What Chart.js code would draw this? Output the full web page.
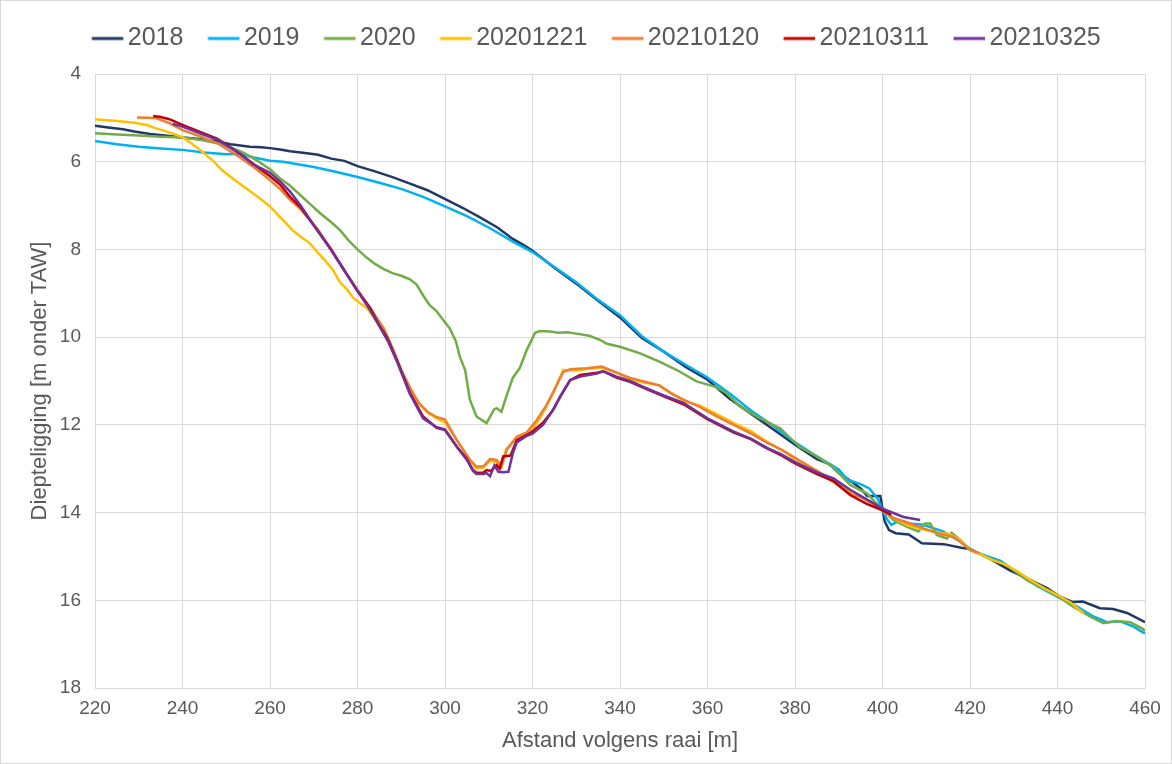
<!DOCTYPE html>
<html>
<head>
<meta charset="utf-8">
<script src="https://cdn.jsdelivr.net/npm/chart.js@4.4.0/dist/chart.umd.min.js"></script>
<style>
html,body{margin:0;padding:0;background:#fff;}
#wrap{width:1172px;height:764px;position:relative;}
</style>
</head>
<body>
<div id="wrap"><canvas id="c" width="1172" height="764"></canvas></div>
<script>
// ---- data (x = afstand [m], y = diepteligging [m onder TAW]) ----
const seriesNames = ['2018','2019','2020','20201221','20210120','20210311','20210325'];
const xTicks = [220,240,260,280,300,320,340,360,380,400,420,440,460];
const yTicks = [4,6,8,10,12,14,16,18];

const x2018 = [220,223,226.4,229,232.6,236,240,244,247.9,251,255.4,258,260,262.3,264.6,268,271,274,277,280,284,288,292,296,300.4,304,308,312,315.5,318,320,325,330,335,340,345,350,355,360,365,370,375,380,385,388,390,393,395,396.5,399.5,400.5,401.5,403,406,409,414,418,420,425,429,433,437.6,440.6,443.5,445.8,449.7,452.7,455.9,460];
const y2018 = [5.18,5.22,5.26,5.31,5.37,5.4,5.45,5.48,5.54,5.6,5.66,5.67,5.69,5.72,5.76,5.8,5.84,5.93,5.98,6.1,6.22,6.35,6.5,6.65,6.87,7.05,7.27,7.5,7.76,7.9,8.03,8.42,8.78,9.17,9.55,10.02,10.33,10.68,10.97,11.4,11.75,12.1,12.45,12.78,12.9,13.1,13.3,13.45,13.62,13.62,14.2,14.4,14.47,14.5,14.7,14.72,14.8,14.83,15.08,15.31,15.5,15.72,15.92,16.04,16.03,16.18,16.2,16.29,16.5];

const x2019 = [220,225,230,235,240,245,250,253,256,260,263,266,270,275,280,285,290,295,300,305,310,315.5,320,325,330,335,340,345,350,355,360,365,370,375,380,385,390,392,395,397,399,400,401,402,404,406.3,409.3,413.8,417.7,420.9,427,430.9,435.4,440.6,444.4,448.2,451.3,454.3,457.4,460];
const y2019 = [5.53,5.6,5.66,5.7,5.73,5.79,5.83,5.82,5.9,5.98,6.0,6.05,6.12,6.23,6.35,6.48,6.62,6.8,7.02,7.24,7.5,7.82,8.06,8.4,8.75,9.15,9.5,9.98,10.33,10.63,10.92,11.28,11.68,12.02,12.4,12.72,13.02,13.25,13.35,13.45,13.7,13.94,14.15,14.28,14.18,14.25,14.28,14.43,14.66,14.89,15.1,15.38,15.68,15.95,16.14,16.37,16.5,16.48,16.6,16.76];

const x2020 = [220,225,230,235,240,244,248,251,254,257,260,262.3,264.6,266.9,269,271.4,274,276,278,280,282,284,286,288,290,292,293.5,295,296.5,298,299.5,301.1,302.5,303.4,304.6,305.7,307.2,309.5,311.2,311.8,312.9,314.2,315.5,317.1,318.7,320.6,321.7,324,326,328,330,333,335.4,337,340,344.6,349,353,357.5,362,364.4,367.4,372,376.6,381,385,389,392.6,396.4,399.4,402.5,405.5,408.2,409.7,410.9,412.4,414.7,415.8,417.7,420,425.3,428.3,433,437.6,440,443.5,447.4,450.5,453.5,456.6,459.3,460];
const y2020 = [5.35,5.38,5.4,5.43,5.45,5.5,5.58,5.67,5.8,5.97,6.17,6.38,6.55,6.76,6.95,7.17,7.38,7.56,7.8,8.0,8.18,8.33,8.45,8.54,8.6,8.68,8.8,9.05,9.27,9.4,9.6,9.8,10.1,10.45,10.75,11.43,11.81,11.96,11.65,11.62,11.7,11.3,10.93,10.7,10.29,9.9,9.86,9.87,9.9,9.89,9.92,9.97,10.06,10.15,10.22,10.37,10.56,10.75,11.01,11.14,11.28,11.58,11.85,12.08,12.5,12.72,12.99,13.37,13.56,13.87,14.17,14.32,14.43,14.25,14.25,14.51,14.59,14.46,14.62,14.85,15.08,15.19,15.54,15.77,15.9,16.14,16.37,16.52,16.47,16.5,16.64,16.7];

const x20201221 = [220,225,229,232,234,237,240,242,244,247,249,252,255,258,260,263,265,267,269,271,273,274.4,276,277.5,279,280.5,282.2,284,286,288,290,292,294,296,298,300,302.7,305.7,307.2,308.7,310.3,311.8,312.9,314,316.4,318.7,320,322,324.7,327,330,333,336,339,342,345,349,352,355,358,362,366,370,373.5,377,380,385,390,393,396,400,402.5,406,410,412.8,415.2,417.7,420,423,425,428,431,434,437,440,443,446];
const y20201221 = [5.03,5.07,5.11,5.17,5.24,5.33,5.44,5.58,5.73,5.98,6.19,6.42,6.64,6.86,7.02,7.33,7.55,7.71,7.85,8.08,8.3,8.47,8.75,8.9,9.1,9.22,9.34,9.6,9.85,10.3,10.8,11.2,11.5,11.72,11.85,11.95,12.35,12.8,13.0,12.98,12.82,12.85,12.95,12.55,12.3,12.18,12.1,11.8,11.28,10.75,10.76,10.72,10.7,10.8,10.95,11.03,11.1,11.3,11.47,11.55,11.75,11.96,12.15,12.38,12.58,12.78,13.05,13.35,13.55,13.7,13.95,14.12,14.3,14.4,14.47,14.48,14.62,14.85,14.98,15.08,15.18,15.35,15.55,15.73,15.88,16.05,16.3];

const x20210120 = [229.6,232,234,237,240,244,248,253,257,260,262.3,264.6,267,271,274.4,277.4,280,283,286,288,290,292,294,296,298,300,302.7,305.7,307.2,308.7,310.3,311.8,312.9,314.1,316.4,318.7,321,323.2,325,327,328.6,332.4,335.8,339.2,342.3,345,349,352,355,358,362,366,370,373.5,377,380,385,390,393,395,398,400,402.5,406.3,409.3,413.8,416.1,417.7,420,422];
const y20210120 = [4.99,5.0,5.01,5.12,5.28,5.42,5.58,5.89,6.18,6.42,6.62,6.87,7.08,7.55,8.08,8.54,8.92,9.35,9.8,10.25,10.75,11.15,11.5,11.7,11.82,11.88,12.35,12.8,12.95,12.95,12.78,12.8,12.95,12.57,12.27,12.17,11.89,11.55,11.2,10.8,10.73,10.71,10.67,10.81,10.93,11.0,11.1,11.3,11.45,11.58,11.8,12.0,12.2,12.4,12.57,12.75,13.05,13.38,13.6,13.64,13.8,13.94,14.12,14.25,14.36,14.5,14.55,14.66,14.85,14.92];

const x20210311 = [233.3,235,237,240,244,248,253,257,260,262.3,264.6,266.9,270,274,277.4,280,283,284.9,286.7,289,292,295,298.1,300,302.7,304.9,306.4,307.2,308.7,309.5,310.5,311.8,312.5,313.3,315,316.4,318.7,320,322.4,324.7,326.3,328.6,330.9,334.7,336.2,339.2,342.3,345.7,350,354.5,360,365.9,370,373.5,377,380,384.9,388.8,392.6,396.4,400,402];
const y20210311 = [4.96,4.98,5.03,5.16,5.32,5.48,5.81,6.11,6.33,6.52,6.8,7.03,7.45,8.0,8.54,8.95,9.35,9.72,10.0,10.52,11.27,11.81,12.07,12.12,12.5,12.76,13.03,13.09,13.09,13.03,13.05,12.92,13.0,12.72,12.7,12.35,12.23,12.15,11.95,11.66,11.36,10.98,10.86,10.81,10.78,10.92,11.02,11.17,11.35,11.53,11.87,12.17,12.33,12.53,12.7,12.88,13.12,13.28,13.6,13.8,13.95,14.05];

const x20210325 = [237.8,240,244,248,253,256,260,262.3,264.6,267,270,274,277.4,280,283,285,287,289,292,295,298,300,302.7,305,306.4,307.2,308.7,309.5,310.3,311.3,312.2,313.3,314.5,315.5,316.4,318.7,320,322.4,324.7,326.3,328.6,330.9,334.7,336.2,339.2,342.3,345.7,350,354.5,360,365.9,370,373.5,377,380,384.9,388.8,392.6,396.4,400,402.5,404.8,408.6];
const y20210325 = [5.14,5.2,5.35,5.5,5.81,6.05,6.25,6.45,6.68,7.0,7.45,8.02,8.55,8.95,9.4,9.75,10.1,10.55,11.3,11.85,12.05,12.1,12.5,12.8,13.05,13.12,13.12,13.1,13.17,12.92,13.07,13.08,13.07,12.65,12.4,12.25,12.2,12.0,11.66,11.36,10.98,10.9,10.83,10.78,10.9,11.0,11.15,11.33,11.5,11.85,12.15,12.32,12.52,12.68,12.85,13.08,13.22,13.48,13.7,13.91,14.01,14.1,14.17];

const seriesColors = ['#1F3864','#00B0F0','#70AD47','#FFC000','#ED7D31','#C00000','#7030A0'];

// ---- build ----
const xs = [x2018,x2019,x2020,x20201221,x20210120,x20210311,x20210325];
const ys = [y2018,y2019,y2020,y20201221,y20210120,y20210311,y20210325];
const toPts = (a,b) => a.map((v,i) => ({x:v, y:b[i]}));

const FONT = "'Liberation Sans', Arial, sans-serif";
const TXT = '#595959';
const GRID = '#D9D9D9';

const PLOT_LEFT = 95, PLOT_BOTTOM = 688, W = 1172, H = 764;
const LEGEND_EXTRA = 13;
const LEGEND_CENTER = 596;
const BOX_W = 24;

// legend marker: a short line that reaches close to the label text
function legendMarker(color) {
  const cv = document.createElement('canvas');
  cv.width = 42; cv.height = 6;
  const c = cv.getContext('2d');
  c.strokeStyle = color;
  c.lineWidth = 3;
  c.beginPath();
  c.moveTo(9.5, 3);
  c.lineTo(41, 3);
  c.stroke();
  return cv;
}

const framePlugin = {
  id: 'frame',
  beforeLayout(chart) {
    const lg = chart.legend;
    if (lg && !lg._extraWrapped) {
      const f = lg.fit.bind(lg);
      lg.fit = function () { f(); this.height += LEGEND_EXTRA; };
      lg._extraWrapped = true;
    }
  },
  afterLayout(chart) {
    const lg = chart.legend;
    if (lg) {
      const cur = (lg.left + lg.right) / 2;
      const d = LEGEND_CENTER - cur;
      lg.left += d; lg.right += d;
    }
  },
  beforeDraw(chart) {
    const c = chart.ctx;
    c.save();
    c.fillStyle = '#fff';
    c.fillRect(0,0,chart.width,chart.height);
    c.restore();
  },
  afterDraw(chart) {
    const c = chart.ctx;
    c.save();
    c.strokeStyle = GRID;
    c.lineWidth = 1;
    c.strokeRect(0.5,0.5,chart.width-1,chart.height-1);
    c.restore();
  }
};

new Chart(document.getElementById('c'), {
  type: 'line',
  data: {
    datasets: seriesNames.map((n,i) => ({
      label: n,
      data: toPts(xs[i], ys[i]),
      borderColor: seriesColors[i],
      backgroundColor: seriesColors[i],
      borderWidth: 2.5,
      pointRadius: 0,
      pointHoverRadius: 0,
      pointStyle: legendMarker(seriesColors[i]),
      tension: 0,
      fill: false,
      order: seriesNames.length - i
    }))
  },
  options: {
    responsive: false,
    animation: false,
    events: [],
    layout: { padding: { top: 2, right: 27, bottom: 0, left: 0 } },
    plugins: {
      legend: {
        position: 'top',
        align: 'center',
        labels: {
          usePointStyle: true,
          pointStyleWidth: BOX_W,
          boxHeight: 22,
          padding: 24,
          color: TXT,
          font: { family: FONT, size: 25 },
          sort: (a,b) => a.datasetIndex - b.datasetIndex
        }
      },
      tooltip: { enabled: false }
    },
    scales: {
      x: {
        type: 'linear',
        min: 220, max: 460,
        afterBuildTicks: s => { s.ticks = xTicks.map(v => ({value:v})); },
        afterFit: s => { s.height = H - PLOT_BOTTOM; },
        grid: { color: GRID, drawTicks: false, lineWidth: 1 },
        border: { color: GRID },
        ticks: { color: TXT, font: { family: FONT, size: 19 }, padding: 9, maxRotation: 0 },
        title: { display: true, text: 'Afstand volgens raai [m]', color: TXT, font: { family: FONT, size: 22 }, padding: { top: 0, bottom: 10 } }
      },
      y: {
        type: 'linear',
        reverse: true,
        min: 4, max: 18,
        afterBuildTicks: s => { s.ticks = yTicks.map(v => ({value:v})); },
        afterFit: s => { s.width = PLOT_LEFT; },
        grid: { color: GRID, drawTicks: false, lineWidth: 1 },
        border: { color: GRID },
        ticks: { color: TXT, font: { family: FONT, size: 19 }, padding: 14 },
        title: { display: true, text: 'Diepteligging [m onder TAW]', color: TXT, font: { family: FONT, size: 22 }, padding: { top: 27, bottom: 0 } }
      }
    }
  },
  plugins: [framePlugin]
});
</script>
</body>
</html>
